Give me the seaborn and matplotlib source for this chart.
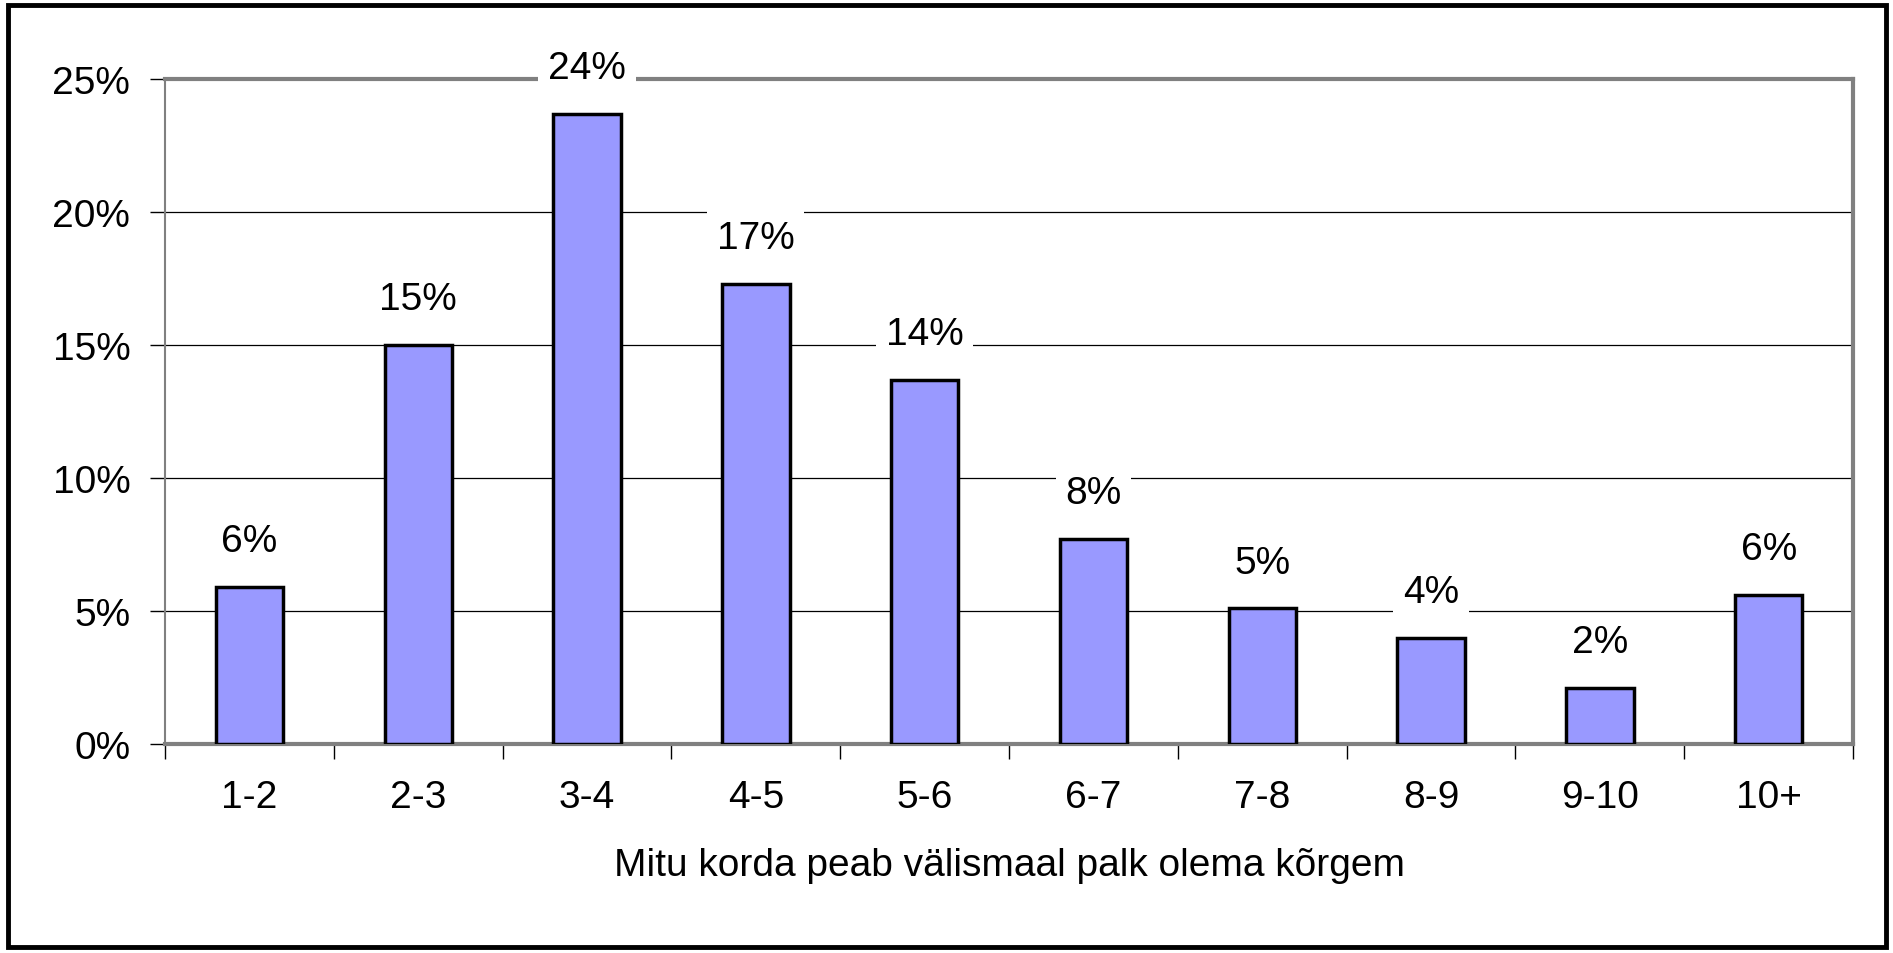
import matplotlib
matplotlib.use("Agg")
import matplotlib.pyplot as plt
import numpy as np
import pandas as pd
import seaborn as sns
from matplotlib.patches import Rectangle
from matplotlib.ticker import FixedLocator, FuncFormatter


CATEGORIES = ["1-2", "2-3", "3-4", "4-5", "5-6", "6-7", "7-8", "8-9", "9-10", "10+"]
SHARES = [5.9, 15.0, 23.7, 17.3, 13.7, 7.7, 5.1, 4.0, 2.1, 5.6]
X_LABEL = "Mitu korda peab välismaal palk olema kõrgem"
Y_TICKS = [0, 5, 10, 15, 20, 25]

BAR_COLOR = "#9999FF"
FONT_SIZE = 28


def main() -> None:
	sns.set_theme(style="white")
	plt.rcParams["font.family"] = ["Liberation Sans", "DejaVu Sans"]
	plt.rcParams.update({
		"text.color": "black",
		"axes.labelcolor": "black",
		"xtick.color": "black",
		"ytick.color": "black",
	})

	df = pd.DataFrame({"category": CATEGORIES, "share": SHARES})

	fig = plt.figure(figsize=(18.93, 9.54), dpi=100)
	ax = fig.add_axes([0.0872, 0.219, 0.8917, 0.697])

	sns.barplot(
		data=df,
		x="category",
		y="share",
		color=BAR_COLOR,
		saturation=1,
		width=0.4,
		edgecolor="black",
		linewidth=2.5,
		ax=ax,
		zorder=3,
	)

	ax.set_ylim(0, 25)
	ax.set_xlim(-0.5, len(CATEGORIES) - 0.5)
	ax.yaxis.set_major_locator(FixedLocator(Y_TICKS))
	ax.yaxis.set_major_formatter(FuncFormatter(lambda v, _: f"{v:.0f}%"))
	ax.yaxis.grid(True, color="#000000", linewidth=0.9, zorder=0)
	ax.set_axisbelow(True)

	# ticks sit between categories, labels at the centres
	ax.set_xticks(np.arange(-0.5, len(CATEGORIES), 1.0))
	ax.set_xticklabels([])
	ax.set_xticks(np.arange(len(CATEGORIES)), minor=True)
	ax.set_xticklabels(CATEGORIES, minor=True, fontsize=FONT_SIZE)
	ax.tick_params(axis="x", which="major", direction="out", length=11, width=1, color="#000000", bottom=True)
	ax.tick_params(axis="x", which="minor", length=0, pad=25)
	ax.tick_params(axis="y", direction="out", length=11, width=1, color="#000000", left=True,
				   labelsize=FONT_SIZE, pad=14)

	for side in ["top", "right", "left", "bottom"]:
		ax.spines[side].set_visible(True)
		ax.spines[side].set_color("#808080")
	ax.spines["top"].set_linewidth(3)
	ax.spines["right"].set_linewidth(3)
	ax.spines["bottom"].set_linewidth(3)
	ax.spines["left"].set_linewidth(1.5)

	ax.set_xlabel(X_LABEL, fontsize=FONT_SIZE, labelpad=23)
	ax.set_ylabel("")

	for container in ax.containers:
		ax.bar_label(
			container,
			fmt="%.0f%%",
			padding=20,
			fontsize=FONT_SIZE,
			color="black",
			bbox=dict(boxstyle="square,pad=0.25", facecolor="white", edgecolor="none"),
			zorder=4,
		)

	fig.patches.append(
		Rectangle((0.0042, 0.006), 0.9921, 0.9877, transform=fig.transFigure,
				  fill=False, edgecolor="black", linewidth=3.5)
	)

	fig.savefig("out.png", dpi=100, facecolor="white")
	plt.close(fig)


if __name__ == "__main__":
	main()
